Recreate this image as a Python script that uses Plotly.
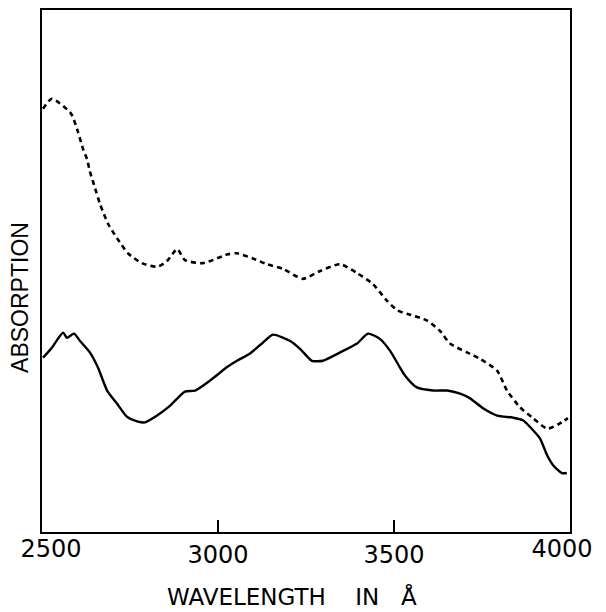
import plotly.graph_objects as go

# Upper (dashed) absorption curve
wavelength_dashed = [2503, 2528, 2582, 2602, 2616, 2628, 2636, 2651, 2665, 2688, 2713, 2744,
                     2784, 2827, 2855, 2884, 2906, 2957, 3028, 3054, 3099, 3139, 3185, 3241,
                     3290, 3347, 3395, 3440, 3480, 3511, 3537, 3594, 3631, 3659, 3707, 3744,
                     3793, 3821, 3858, 3895, 3935, 3966, 3994]
absorption_dashed = [8.11, 8.30, 8.02, 7.67, 7.35, 7.14, 6.91, 6.58, 6.28, 5.90, 5.63, 5.34,
                     5.15, 5.08, 5.19, 5.42, 5.21, 5.15, 5.32, 5.34, 5.24, 5.13, 5.04, 4.85,
                     5.00, 5.13, 4.96, 4.75, 4.43, 4.24, 4.18, 4.05, 3.85, 3.61, 3.44, 3.32,
                     3.09, 2.71, 2.39, 2.18, 1.98, 2.06, 2.18]

# Lower (solid) absorption curve
wavelength_solid = [2503, 2528, 2545, 2560, 2571, 2591, 2608, 2636, 2659, 2685, 2713, 2741,
                    2770, 2793, 2827, 2864, 2906, 2935, 2977, 3028, 3054, 3091, 3128, 3156,
                    3205, 3233, 3267, 3298, 3347, 3395, 3426, 3460, 3489, 3517, 3531, 3565,
                    3611, 3651, 3688, 3716, 3753, 3793, 3838, 3866, 3895, 3915, 3935, 3952,
                    3977, 3991]
absorption_solid = [3.34, 3.53, 3.70, 3.82, 3.72, 3.80, 3.66, 3.44, 3.15, 2.71, 2.46, 2.21,
                    2.12, 2.10, 2.23, 2.42, 2.69, 2.71, 2.90, 3.17, 3.28, 3.42, 3.63, 3.78,
                    3.66, 3.51, 3.28, 3.28, 3.44, 3.61, 3.80, 3.70, 3.47, 3.15, 3.00, 2.77,
                    2.71, 2.71, 2.65, 2.56, 2.37, 2.23, 2.19, 2.14, 1.95, 1.79, 1.47, 1.28,
                    1.13, 1.13]

inner_tick_values = [3000, 3500]
inner_tick_labels = ["3000", "3500"]
left_tick_values = [2500]
left_tick_labels = ["2500"]
right_tick_values = [4000]
right_tick_labels = ["4000"]
x_range = [2500, 4000]

NB = "\u00a0"
tick_font = dict(family="DejaVu Sans", size=24, color="black")

fig = go.Figure()
fig.add_trace(go.Scatter(
    x=wavelength_dashed, y=absorption_dashed, mode="lines",
    line=dict(color="black", width=2.6, dash="5px,4px", shape="spline", smoothing=0.6),
    showlegend=False, hoverinfo="skip"))
fig.add_trace(go.Scatter(
    x=wavelength_solid, y=absorption_solid, mode="lines",
    line=dict(color="black", width=2.4, shape="spline", smoothing=0.6),
    showlegend=False, hoverinfo="skip"))
# empty traces so the extra label axes are drawn
fig.add_trace(go.Scatter(x=[], y=[], xaxis="x2", showlegend=False, hoverinfo="skip"))
fig.add_trace(go.Scatter(x=[], y=[], xaxis="x3", showlegend=False, hoverinfo="skip"))

fig.update_layout(
    width=598, height=604,
    margin=dict(l=34, r=36, t=0, b=80),
    paper_bgcolor="white", plot_bgcolor="white",
    xaxis=dict(
        range=x_range, tickmode="array", tickvals=inner_tick_values, ticktext=inner_tick_labels,
        ticks="inside", ticklen=12, tickwidth=1.5, tickcolor="black",
        showline=True, linecolor="black", linewidth=2, mirror=True,
        showgrid=False, zeroline=False, tickfont=tick_font,
    ),
    xaxis2=dict(
        range=x_range, overlaying="x", anchor="y", side="bottom",
        tickmode="array", tickvals=left_tick_values, ticktext=left_tick_labels,
        ticks="", ticklabelshift=9, showline=False, showgrid=False, zeroline=False,
        tickfont=tick_font,
    ),
    xaxis3=dict(
        range=x_range, overlaying="x", anchor="y", side="bottom",
        tickmode="array", tickvals=right_tick_values, ticktext=right_tick_labels,
        ticks="", ticklabelshift=-8, showline=False, showgrid=False, zeroline=False,
        tickfont=tick_font,
    ),
    yaxis=dict(
        range=[0, 10], showticklabels=False, ticks="",
        showline=True, linecolor="black", linewidth=2, mirror=True,
        showgrid=False, zeroline=False,
    ),
    annotations=[
        dict(text="WAVELENGTH" + NB * 4 + "IN" + NB * 3 + "Å", xref="paper", yref="paper",
             x=0.473, y=-0.124, xanchor="center", yanchor="middle", showarrow=False,
             font=dict(family="DejaVu Sans", size=23, color="black")),
        dict(text="ABSORPTION", xref="paper", yref="paper", textangle=-90,
             x=-0.042, y=0.45, xanchor="center", yanchor="middle", showarrow=False,
             font=dict(family="Liberation Sans", size=23, color="black")),
    ],
)

fig.write_html("out.html")
